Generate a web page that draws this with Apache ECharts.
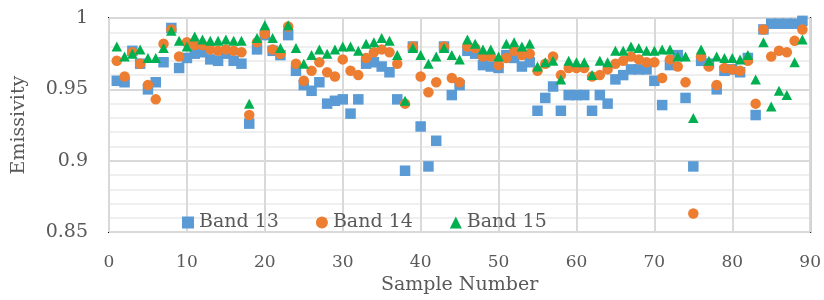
<!DOCTYPE html>
<html>
<head>
<meta charset="utf-8">
<script src="https://cdn.jsdelivr.net/npm/echarts@6/dist/echarts.min.js"></script>
<style>
  html, body { margin: 0; padding: 0; background: #fff; }
  #chart { width: 824px; height: 300px; }
</style>
</head>
<body>
<div id="chart"></div>
<script>
const sampleNumbers = [
  1, 2, 3, 4, 5, 6, 7, 8, 9, 10, 11, 12, 13, 14, 15, 16, 17, 18, 19, 20,
  21, 22, 23, 24, 25, 26, 27, 28, 29, 30, 31, 32, 33, 34, 35, 36, 37, 38, 39, 40,
  41, 42, 43, 44, 45, 46, 47, 48, 49, 50, 51, 52, 53, 54, 55, 56, 57, 58, 59, 60,
  61, 62, 63, 64, 65, 66, 67, 68, 69, 70, 71, 72, 73, 74, 75, 76, 77, 78, 79, 80,
  81, 82, 83, 84, 85, 86, 87, 88, 89,
];

const band13 = [
  0.956, 0.955, 0.977, 0.968, 0.950, 0.955, 0.969, 0.993, 0.965, 0.972,
  0.975, 0.976, 0.971, 0.970, 0.975, 0.970, 0.968, 0.926, 0.978, 0.988,
  0.977, 0.974, 0.988, 0.963, 0.953, 0.949, 0.955, 0.940, 0.942, 0.943,
  0.933, 0.943, 0.968, 0.969, 0.966, 0.962, 0.943, 0.893, 0.980, 0.924,
  0.896, 0.914, 0.980, 0.946, 0.953, 0.977, 0.975, 0.967, 0.966, 0.965,
  0.974, 0.972, 0.966, 0.969, 0.935, 0.944, 0.952, 0.935, 0.946, 0.946,
  0.946, 0.935, 0.946, 0.940, 0.957, 0.960, 0.964, 0.964, 0.964, 0.956,
  0.939, 0.967, 0.974, 0.944, 0.896, 0.970, 0.968, 0.950, 0.963, 0.964,
  0.962, 0.972, 0.932, 0.992, 0.996, 0.996, 0.996, 0.996, 0.998,
];

const band14 = [
  0.970, 0.959, 0.976, 0.968, 0.953, 0.943, 0.982, 0.992, 0.973, 0.983,
  0.981, 0.981, 0.978, 0.977, 0.978, 0.977, 0.976, 0.932, 0.983, 0.989,
  0.978, 0.975, 0.994, 0.968, 0.956, 0.963, 0.969, 0.962, 0.959, 0.971,
  0.963, 0.960, 0.972, 0.976, 0.978, 0.976, 0.968, 0.940, 0.980, 0.959,
  0.948, 0.955, 0.980, 0.958, 0.955, 0.980, 0.979, 0.973, 0.973, 0.967,
  0.972, 0.977, 0.974, 0.975, 0.963, 0.968, 0.973, 0.960, 0.965, 0.965,
  0.965, 0.959, 0.960, 0.964, 0.968, 0.970, 0.973, 0.971, 0.969, 0.969,
  0.958, 0.971, 0.966, 0.955, 0.863, 0.973, 0.966, 0.953, 0.965, 0.964,
  0.963, 0.970, 0.940, 0.992, 0.973, 0.977, 0.976, 0.984, 0.992,
];

const band15 = [
  0.980, 0.973, 0.975, 0.978, 0.972, 0.972, 0.979, 0.991, 0.984, 0.980,
  0.987, 0.985, 0.984, 0.984, 0.985, 0.984, 0.984, 0.940, 0.986, 0.995,
  0.986, 0.979, 0.995, 0.979, 0.968, 0.974, 0.978, 0.975, 0.978, 0.980,
  0.980, 0.977, 0.982, 0.983, 0.986, 0.984, 0.974, 0.942, 0.979, 0.974,
  0.968, 0.973, 0.979, 0.974, 0.971, 0.985, 0.982, 0.978, 0.978, 0.973,
  0.982, 0.983, 0.980, 0.982, 0.966, 0.969, 0.970, 0.957, 0.970, 0.969,
  0.969, 0.960, 0.970, 0.969, 0.977, 0.977, 0.980, 0.979, 0.977, 0.977,
  0.978, 0.978, 0.973, 0.973, 0.930, 0.978, 0.970, 0.973, 0.972, 0.972,
  0.971, 0.974, 0.957, 0.983, 0.938, 0.949, 0.946, 0.969, 0.985,
];

const yTicks = [0.85, 0.9, 0.95, 1];
const xTicks = [0, 10, 20, 30, 40, 50, 60, 70, 80, 90];

// Liberation Serif isn't picked up in the sandbox, DejaVu Serif is
const font = 'DejaVu Serif';
const textColor = '#595959';

const pairs = (values) => values.map((v, i) => [sampleNumbers[i], v]);

const chart = echarts.init(document.getElementById('chart'));

const option = {
  animation: false,
  textStyle: { fontFamily: font },
  grid: {
    left: 109,
    right: 11,
    top: 18,
    bottom: 57,
    show: true,
    borderColor: '#000',
    borderWidth: 2,
  },
  legend: {
    left: 182,
    top: 213,
    padding: 0,
    itemWidth: 12,
    itemHeight: 12,
    itemGap: 37,
    textStyle: {
      fontFamily: font,
      fontSize: 19,
      color: textColor,
    },
    data: [
      { name: 'Band 13', icon: 'rect' },
      { name: 'Band 14', icon: 'circle' },
      { name: 'Band 15', icon: 'triangle' },
    ],
  },
  xAxis: {
    type: 'value',
    min: xTicks[0],
    max: xTicks[xTicks.length - 1],
    interval: 10,
    name: 'Sample Number',
    nameLocation: 'middle',
    nameGap: 38,
    nameTextStyle: { fontFamily: font, fontSize: 19, color: textColor },
    axisLine: { show: false },
    axisTick: { show: false },
    axisLabel: { fontFamily: font, fontSize: 17, color: textColor, margin: 22 },
    splitLine: { show: true, lineStyle: { color: '#d9d9d9', width: 2 } },
  },
  yAxis: {
    type: 'value',
    min: yTicks[0],
    max: yTicks[yTicks.length - 1],
    interval: 0.05,
    name: 'Emissivity',
    nameLocation: 'middle',
    nameGap: 80,
    nameTextStyle: { fontFamily: font, fontSize: 19, color: textColor },
    axisLine: { show: false },
    axisTick: { show: false },
    axisLabel: {
      fontFamily: font,
      fontSize: 19,
      color: textColor,
      margin: 21,
      formatter: (v) => String(+v.toFixed(2)),
    },
    splitLine: { show: true, lineStyle: { color: '#d9d9d9', width: 2 } },
    minorTick: { show: false, splitNumber: 5 },
    minorSplitLine: { show: true, lineStyle: { color: '#efefef', width: 2 } },
  },
  series: [
    {
      name: 'Band 13',
      type: 'scatter',
      symbol: 'rect',
      symbolSize: 10.5,
      itemStyle: { color: '#5B9BD5', opacity: 1 },
      data: pairs(band13),
    },
    {
      name: 'Band 14',
      type: 'scatter',
      symbol: 'circle',
      symbolSize: 10.5,
      itemStyle: { color: '#ED7D31', opacity: 1 },
      data: pairs(band14),
    },
    {
      name: 'Band 15',
      type: 'scatter',
      symbol: 'triangle',
      symbolSize: [10.5, 10],
      itemStyle: { color: '#00B050', opacity: 1 },
      data: pairs(band15),
    },
  ],
};

chart.setOption(option);
</script>
</body>
</html>
